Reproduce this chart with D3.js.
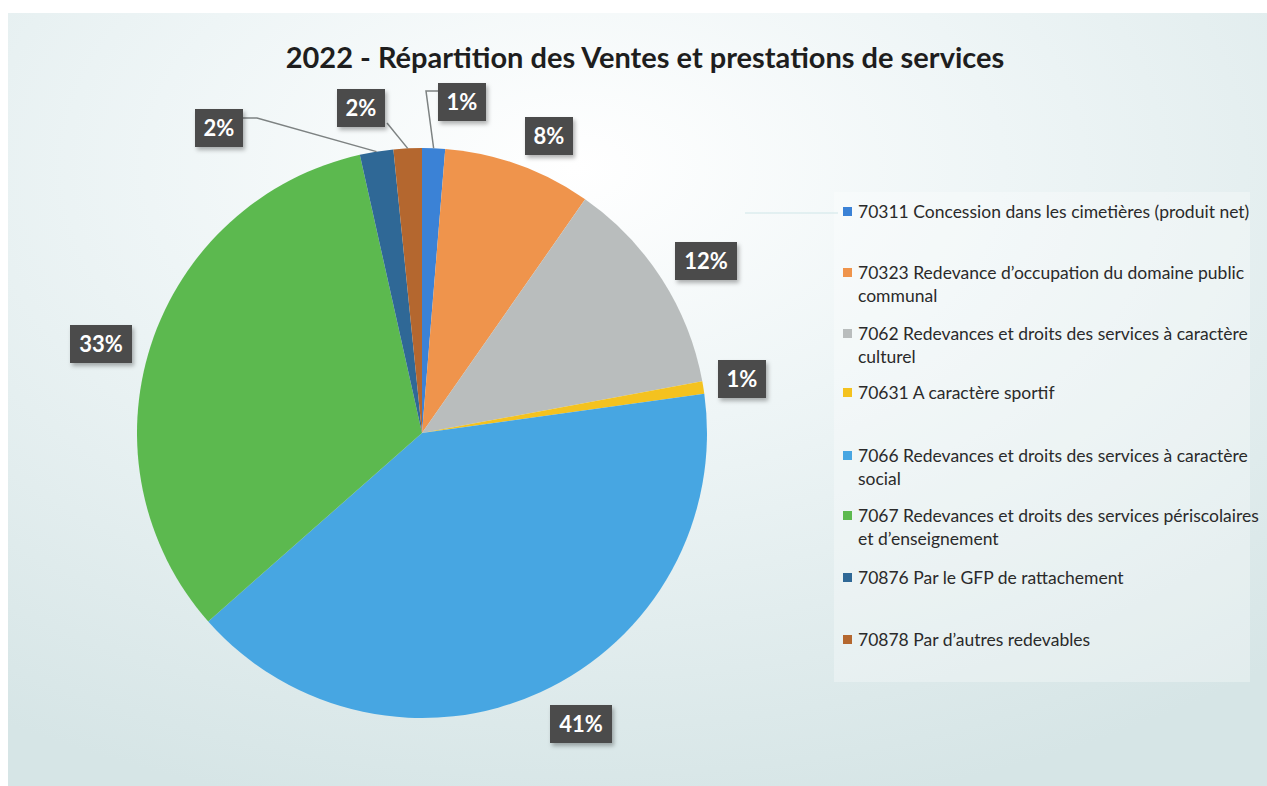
<!DOCTYPE html>
<html>
<head>
<meta charset="utf-8">
<script src="https://cdn.jsdelivr.net/npm/d3@7"></script>
<style>
  html, body { margin: 0; padding: 0; background: #ffffff; }
  svg { display: block; }
</style>
</head>
<body>
<div id="chart"></div>
<script>
// data
const title = "2022 - Répartition des Ventes et prestations de services";
const codes = ["70311", "70323", "7062", "70631", "7066", "7067", "70876", "70878"];
const legendLines = [
  ["70311 Concession dans les cimetières (produit net)"],
  ["70323  Redevance d\u2019occupation du domaine public", "communal"],
  ["7062 Redevances et droits des services à caractère", "culturel"],
  ["70631 A caractère sportif"],
  ["7066 Redevances et droits des services à caractère", "social"],
  ["7067  Redevances et droits des services périscolaires", "et d\u2019enseignement"],
  ["70876 Par le GFP de rattachement"],
  ["70878  Par d\u2019autres redevables"]
];
const shares = [1.3, 8.4, 12.4, 0.7, 40.7, 33.0, 1.9, 1.6];
const colors = ["#3b82d6", "#ef944c", "#b9bdbd", "#f4c21f", "#47a6e2", "#5cb94f", "#2f6896", "#b4672f"];

// svg container
const svgWidth = 1267, svgHeight = 786;
const svg = d3.select("#chart").append("svg")
  .attr("width", svgWidth)
  .attr("height", svgHeight);

const defs = svg.append("defs");
const bg = defs.append("radialGradient").attr("id", "bg")
  .attr("cx", "45%").attr("cy", "20%").attr("r", "85%");
bg.append("stop").attr("offset", "0%").attr("stop-color", "#ffffff");
bg.append("stop").attr("offset", "40%").attr("stop-color", "#eef5f6");
bg.append("stop").attr("offset", "100%").attr("stop-color", "#d6e5e6");

const shadow = defs.append("filter").attr("id", "shadow")
  .attr("x", "-20%").attr("y", "-20%").attr("width", "150%").attr("height", "160%");
shadow.append("feDropShadow").attr("dx", 2).attr("dy", 3).attr("stdDeviation", 2)
  .attr("flood-color", "#000").attr("flood-opacity", 0.3);

// panel
svg.append("rect")
  .attr("x", 8).attr("y", 13)
  .attr("width", svgWidth - 8).attr("height", svgHeight - 13)
  .attr("fill", "url(#bg)");

// legend backdrop
svg.append("rect")
  .attr("x", 834).attr("y", 192)
  .attr("width", 416).attr("height", 490)
  .attr("fill", "#ffffff").attr("opacity", 0.3);

svg.append("line")
  .attr("x1", 745).attr("x2", 838).attr("y1", 213).attr("y2", 213)
  .attr("stroke", "#cfe6e8").attr("stroke-width", 1);

// title
svg.append("text")
  .attr("x", 645).attr("y", 68)
  .attr("text-anchor", "middle")
  .style("font-family", "Lato, 'Open Sans', sans-serif")
  .style("font-weight", "bold")
  .style("font-size", "29px")
  .attr("fill", "#1e1e1e")
  .text(title);

// pie
const cx = 422, cy = 433, radius = 285;
const pie = d3.pie().sort(null).value(d => d);
const arcs = pie(shares);
const arc = d3.arc().innerRadius(0).outerRadius(radius);
const total = d3.sum(shares);

const pieGroup = svg.append("g")
  .attr("transform", `translate(${cx}, ${cy})`);

pieGroup.selectAll("path")
  .data(arcs)
  .enter()
  .append("path")
  .attr("d", arc)
  .attr("fill", (d, i) => colors[i]);

// label boxes: centre relative to the pie centre, and leader lines
const labelPos = [
  [40, -331], [127, -297], [284, -172], [320, -54],
  [159, 291], [-321, -89], [-203, -305], [-61, -325]
];
const leaders = [
  [[16, -342], [4, -342], [10, -282]],
  null, null, null, null, null,
  [[-179, -315], [-165, -315], [-60, -280]],
  [[-35, -310], [-16, -281]]
];

const outer = d3.arc().innerRadius(radius).outerRadius(radius);

leaders.forEach((pts, i) => {
  if (!pts) return;
  const edge = outer.centroid(arcs[i]);
  const path = pts.slice(0, -1).concat([edge]);
  pieGroup.append("path")
    .attr("d", d3.line()(path))
    .attr("fill", "none")
    .attr("stroke", "#7d8282")
    .attr("stroke-width", 1.5);
});

const labels = pieGroup.selectAll(".lbl")
  .data(arcs)
  .enter()
  .append("g")
  .attr("class", "lbl")
  .attr("transform", (d, i) => `translate(${labelPos[i][0]}, ${labelPos[i][1]})`);

const pct = d => Math.round(d.data / total * 100);

labels.append("rect")
  .attr("x", d => pct(d) >= 10 ? -31 : -24)
  .attr("y", -19)
  .attr("width", d => pct(d) >= 10 ? 62 : 48)
  .attr("height", 38)
  .attr("fill", "#4b4c4c")
  .attr("filter", "url(#shadow)");

labels.append("text")
  .attr("text-anchor", "middle")
  .attr("dy", "0.36em")
  .style("font-family", "Lato, 'Open Sans', sans-serif")
  .style("font-weight", "bold")
  .style("font-size", "22px")
  .attr("fill", "#ffffff")
  .text(d => pct(d) + "%");

// legend
const legendY = [212, 273, 334, 393, 456, 516, 578, 640];
const legend = svg.append("g");
codes.forEach((c, i) => {
  const g = legend.append("g").attr("transform", `translate(843, ${legendY[i]})`);
  g.append("rect")
    .attr("x", 0).attr("y", -5)
    .attr("width", 9).attr("height", 9)
    .attr("fill", colors[i]);
  legendLines[i].forEach((t, j) => {
    g.append("text")
      .attr("x", 15).attr("y", j * 23)
      .attr("dy", "0.35em")
      .style("font-family", "Lato, 'Open Sans', sans-serif")
      .style("font-size", "17.5px")
      .attr("fill", "#2a2a2a")
      .text(t);
  });
});
</script>
</body>
</html>
